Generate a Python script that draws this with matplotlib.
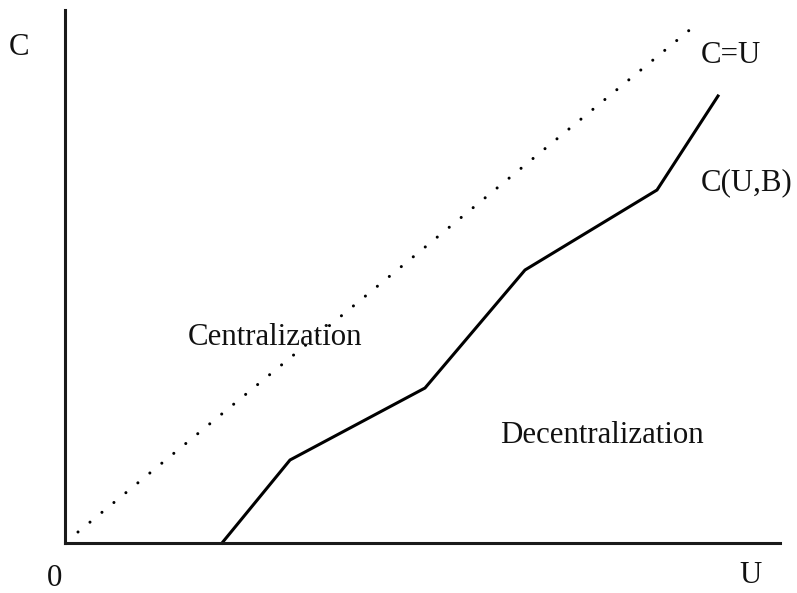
import matplotlib
matplotlib.use("Agg")
import matplotlib.pyplot as plt

W, H = 797, 593

# Curve C(U,B) vertices (data units, origin at axes corner)
u_curve = [157, 225, 360, 460, 592, 653]
c_curve = [0, 83, 155, 273, 353, 447]

# Diagonal C = U (dotted)
u_diag = [13, 627]
c_diag = [11, 515]

# Labels: (text, x_px, baseline_px)
labels = [
    ("C", 19, 55),
    ("0", 55, 586),
    ("U", 751, 583),
    ("C=U", 731, 63),
    ("C(U,B)", 747, 190),
    ("Centralization", 275, 345),
    ("Decentralization", 602, 443),
]

plt.rcParams['font.family'] = ['Liberation Serif', 'DejaVu Serif']

fig = plt.figure(figsize=(W / 100, H / 100), dpi=100)
x0, y0, x1, y1 = 65, 543, 780, 10
ax = fig.add_axes([x0 / W, 1 - y0 / H, (x1 - x0) / W, (y0 - y1) / H])
ax.set_xlim(0, x1 - x0)
ax.set_ylim(0, y0 - y1)
for s in ['top', 'right']:
    ax.spines[s].set_visible(False)
for s in ['left', 'bottom']:
    ax.spines[s].set_linewidth(2.2)
    ax.spines[s].set_color('#1a1a1a')
ax.set_xticks([])
ax.set_yticks([])
ax.patch.set_alpha(0)

ax.plot(u_curve, c_curve, color='black', lw=2.2, solid_joinstyle='miter', clip_on=False)
ax.plot(u_diag, c_diag, color='black', lw=2.2, linestyle=(0, (0.01, 5.06)),
        dash_capstyle='round', solid_capstyle='round', clip_on=False)

for t, x, y in labels:
    fig.text(x / W, 1 - y / H, t, ha='center', va='baseline', fontsize=22.2, color='#111111')

fig.savefig('out.png', dpi=100)
